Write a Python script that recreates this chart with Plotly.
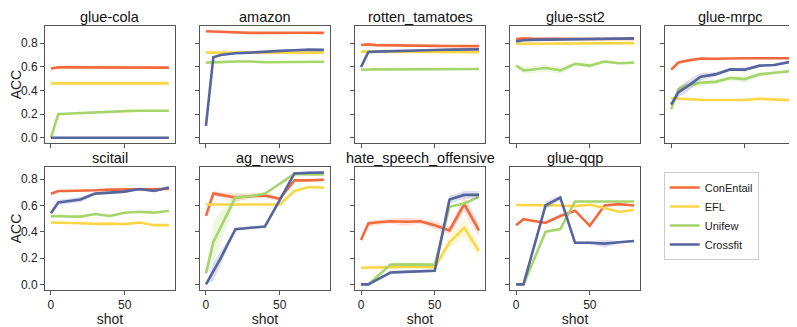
import plotly.graph_objects as go
from plotly.subplots import make_subplots

# shots on the x axis
shots = [0, 5, 10, 20, 30, 40, 50, 60, 70, 80]

datasets = ["glue-cola", "amazon", "rotten_tamatoes", "glue-sst2", "glue-mrpc",
            "scitail", "ag_news", "hate_speech_offensive", "glue-qqp"]
models = ["ConEntail", "EFL", "Unifew", "Crossfit"]
colors = ["#F4693B", "#FDD645", "#A6D66B", "#56649F"]

# glue-cola
cola_ce = [0.585, 0.595, 0.595, 0.595, 0.595, 0.595, 0.595, 0.595, 0.595, 0.593]
cola_efl = [0.46, 0.46, 0.46, 0.46, 0.46, 0.46, 0.46, 0.46, 0.46, 0.46]
cola_uf = [0.0, 0.20, 0.203, 0.21, 0.215, 0.22, 0.225, 0.228, 0.228, 0.228]
cola_cf = [0.0, 0.0, 0.0, 0.0, 0.0, 0.0, 0.0, 0.0, 0.0, 0.0]
# amazon
amz_ce = [0.90, 0.897, 0.893, 0.888, 0.887, 0.887, 0.888, 0.892, 0.888, 0.887]
amz_efl = [0.72, 0.72, 0.72, 0.72, 0.72, 0.72, 0.72, 0.72, 0.72, 0.72]
amz_uf = [0.635, 0.64, 0.64, 0.645, 0.645, 0.638, 0.64, 0.643, 0.643, 0.643]
amz_cf = [0.10, 0.68, 0.70, 0.715, 0.72, 0.73, 0.735, 0.74, 0.745, 0.743]
# rotten_tamatoes
rt_ce = [0.785, 0.79, 0.783, 0.78, 0.778, 0.777, 0.777, 0.776, 0.776, 0.775]
rt_efl = [0.728, 0.728, 0.727, 0.726, 0.726, 0.725, 0.725, 0.725, 0.724, 0.724]
rt_uf = [0.575, 0.578, 0.578, 0.578, 0.578, 0.577, 0.578, 0.58, 0.582, 0.582]
rt_cf = [0.597, 0.725, 0.728, 0.73, 0.735, 0.74, 0.742, 0.745, 0.747, 0.747]
# glue-sst2
sst_ce = [0.835, 0.84, 0.838, 0.836, 0.835, 0.835, 0.835, 0.835, 0.835, 0.835]
sst_efl = [0.795, 0.795, 0.797, 0.80, 0.80, 0.80, 0.80, 0.80, 0.797, 0.80]
sst_uf = [0.61, 0.57, 0.575, 0.59, 0.57, 0.625, 0.61, 0.645, 0.63, 0.635]
sst_cf = [0.815, 0.825, 0.828, 0.83, 0.83, 0.832, 0.835, 0.84, 0.838, 0.84]
# glue-mrpc
mrpc_ce = [0.576, 0.636, 0.65, 0.67, 0.668, 0.673, 0.672, 0.672, 0.673, 0.673]
mrpc_efl = [0.333, 0.33, 0.325, 0.322, 0.32, 0.32, 0.32, 0.33, 0.322, 0.318]
mrpc_uf = [0.24, 0.41, 0.44, 0.465, 0.473, 0.505, 0.496, 0.536, 0.55, 0.562]
mrpc_cf = [0.28, 0.385, 0.425, 0.517, 0.536, 0.578, 0.576, 0.61, 0.615, 0.64]
# scitail
sci_ce = [0.689, 0.71, 0.71, 0.71, 0.715, 0.72, 0.72, 0.725, 0.72, 0.725]
sci_efl = [0.47, 0.47, 0.468, 0.465, 0.46, 0.462, 0.458, 0.47, 0.45, 0.45]
sci_uf = [0.517, 0.52, 0.517, 0.515, 0.535, 0.52, 0.545, 0.552, 0.545, 0.56]
sci_cf = [0.54, 0.623, 0.63, 0.645, 0.69, 0.70, 0.705, 0.725, 0.71, 0.737]
# ag_news
ag_ce = [0.52, 0.69, 0.68, 0.66, 0.67, 0.675, 0.65, 0.79, 0.79, 0.795]
ag_efl = [0.607, 0.607, 0.608, 0.61, 0.61, 0.61, 0.607, 0.71, 0.74, 0.734]
ag_uf = [0.083, 0.32, 0.435, 0.66, 0.67, 0.69, 0.765, 0.84, 0.835, 0.835]
ag_cf = [0.0, 0.096, 0.2, 0.42, 0.43, 0.44, 0.64, 0.843, 0.848, 0.85]
# hate_speech_offensive
hate_ce = [0.337, 0.463, 0.47, 0.48, 0.476, 0.48, 0.45, 0.41, 0.61, 0.41]
hate_efl = [0.127, 0.128, 0.13, 0.133, 0.135, 0.135, 0.13, 0.32, 0.43, 0.255]
hate_uf = [0.0, 0.0, 0.05, 0.15, 0.152, 0.15, 0.15, 0.59, 0.615, 0.665]
hate_cf = [0.0, 0.0, 0.03, 0.09, 0.095, 0.1, 0.104, 0.645, 0.68, 0.68]
# glue-qqp
qqp_ce = [0.45, 0.496, 0.485, 0.468, 0.52, 0.56, 0.445, 0.60, 0.61, 0.60]
qqp_efl = [0.603, 0.603, 0.603, 0.603, 0.60, 0.595, 0.605, 0.58, 0.55, 0.567]
qqp_uf = [0.0, 0.0, 0.13, 0.40, 0.42, 0.63, 0.63, 0.63, 0.63, 0.63]
qqp_cf = [0.0, 0.0, 0.2, 0.60, 0.66, 0.316, 0.316, 0.31, 0.32, 0.33]

# spread across seeds (half width of the shaded band), only where visible
ag_uf_sd = [0.01, 0.15, 0.12, 0.03, 0.02, 0.01, 0.01, 0.01, 0.01, 0.01]
ag_cf_sd = [0.0, 0.07, 0.05, 0.01, 0.01, 0.01, 0.01, 0.01, 0.01, 0.01]
ag_ce_sd = [0.01, 0.02, 0.02, 0.03, 0.02, 0.02, 0.01, 0.01, 0.01, 0.01]
hate_ce_sd = [0.01, 0.02, 0.02, 0.02, 0.03, 0.02, 0.03, 0.03, 0.06, 0.05]
hate_efl_sd = [0.005, 0.005, 0.005, 0.01, 0.01, 0.01, 0.01, 0.05, 0.07, 0.06]
hate_cf_sd = [0.0, 0.0, 0.01, 0.01, 0.01, 0.01, 0.01, 0.03, 0.03, 0.03]
mrpc_cf_sd = [0.01, 0.04, 0.05, 0.03, 0.02, 0.01, 0.02, 0.01, 0.01, 0.01]
mrpc_uf_sd = [0.01, 0.03, 0.03, 0.03, 0.02, 0.02, 0.03, 0.02, 0.01, 0.01]
sst_uf_sd = [0.01, 0.03, 0.03, 0.03, 0.03, 0.01, 0.02, 0.01, 0.01, 0.01]
sci_cf_sd = [0.01, 0.02, 0.02, 0.02, 0.01, 0.01, 0.01, 0.01, 0.01, 0.01]
qqp_cf_sd = [0.0, 0.0, 0.01, 0.03, 0.02, 0.01, 0.01, 0.03, 0.01, 0.01]

table = {
    "glue-cola": [cola_ce, cola_efl, cola_uf, cola_cf],
    "amazon": [amz_ce, amz_efl, amz_uf, amz_cf],
    "rotten_tamatoes": [rt_ce, rt_efl, rt_uf, rt_cf],
    "glue-sst2": [sst_ce, sst_efl, sst_uf, sst_cf],
    "glue-mrpc": [mrpc_ce, mrpc_efl, mrpc_uf, mrpc_cf],
    "scitail": [sci_ce, sci_efl, sci_uf, sci_cf],
    "ag_news": [ag_ce, ag_efl, ag_uf, ag_cf],
    "hate_speech_offensive": [hate_ce, hate_efl, hate_uf, hate_cf],
    "glue-qqp": [qqp_ce, qqp_efl, qqp_uf, qqp_cf],
}
bands = {
    ("ag_news", 2): ag_uf_sd, ("ag_news", 3): ag_cf_sd, ("ag_news", 0): ag_ce_sd,
    ("hate_speech_offensive", 0): hate_ce_sd, ("hate_speech_offensive", 1): hate_efl_sd,
    ("hate_speech_offensive", 3): hate_cf_sd,
    ("glue-mrpc", 3): mrpc_cf_sd, ("glue-mrpc", 2): mrpc_uf_sd,
    ("glue-sst2", 2): sst_uf_sd, ("scitail", 3): sci_cf_sd, ("glue-qqp", 3): qqp_cf_sd,
}


def rgba(hex_color, a):
    h = hex_color.lstrip("#")
    return "rgba({},{},{},{})".format(int(h[0:2], 16), int(h[2:4], 16), int(h[4:6], 16), a)


specs = [[{}] * 5, [{}, {}, {}, {}, None]]
fig = make_subplots(rows=2, cols=5, specs=specs,
                    horizontal_spacing=0.0337, vertical_spacing=24 / 266,
                    row_heights=[118, 124], subplot_titles=datasets)

for k, name in enumerate(datasets):
    r, c = k // 5 + 1, k % 5 + 1
    for m, model in enumerate(models):
        y = table[name][m]
        sd = bands.get((name, m))
        if sd is not None:
            up = [a + b for a, b in zip(y, sd)]
            lo = [a - b for a, b in zip(y, sd)]
            fig.add_trace(go.Scatter(x=shots + shots[::-1], y=up + lo[::-1], fill="toself",
                                     fillcolor=rgba(colors[m], 0.2), line=dict(width=0),
                                     hoverinfo="skip", showlegend=False), r, c)
        fig.add_trace(go.Scatter(x=shots, y=y, mode="lines", name=model,
                                 line=dict(color=colors[m], width=2.6),
                                 showlegend=(k == 0)), r, c)

axis_style = dict(showline=True, mirror=True, linecolor="#555555", linewidth=1,
                  ticks="outside", ticklen=4, tickcolor="#555555", showgrid=False,
                  zeroline=False)

for k in range(9):
    r, c = k // 5 + 1, k % 5 + 1
    fig.update_xaxes(axis_style, range=[-4, 84], tickvals=[0, 50],
                     showticklabels=(r == 2), row=r, col=c)
    yr = [-0.045, 0.945] if r == 1 else [-0.0425, 0.8925]
    fig.update_yaxes(axis_style, range=yr, tickvals=[0, 0.2, 0.4, 0.6, 0.8],
                     tickformat=".1f", showticklabels=(c == 1), row=r, col=c)
    if r == 2:
        fig.update_xaxes(title=dict(text="shot", standoff=4), row=r, col=c)
    if c == 1:
        fig.update_yaxes(title=dict(text="ACC", standoff=2), row=r, col=c)

fig.update_annotations(font=dict(size=14.5, color="#111111"), yshift=-1)

# the page body adds an 8px margin, so the figure is 8px smaller and margins shifted
fig.update_layout(
    width=789, height=319,
    margin=dict(l=34, r=1, t=18, b=35),
    paper_bgcolor="white", plot_bgcolor="white",
    font=dict(family="Liberation Sans, Arial, sans-serif", size=12, color="#222222"),
    legend=dict(x=0.825, y=0.447, xanchor="left", yanchor="top",
                bordercolor="#cccccc", borderwidth=1, font=dict(size=11),
                tracegroupgap=0, itemwidth=30),
)

fig.write_html("out.html")
